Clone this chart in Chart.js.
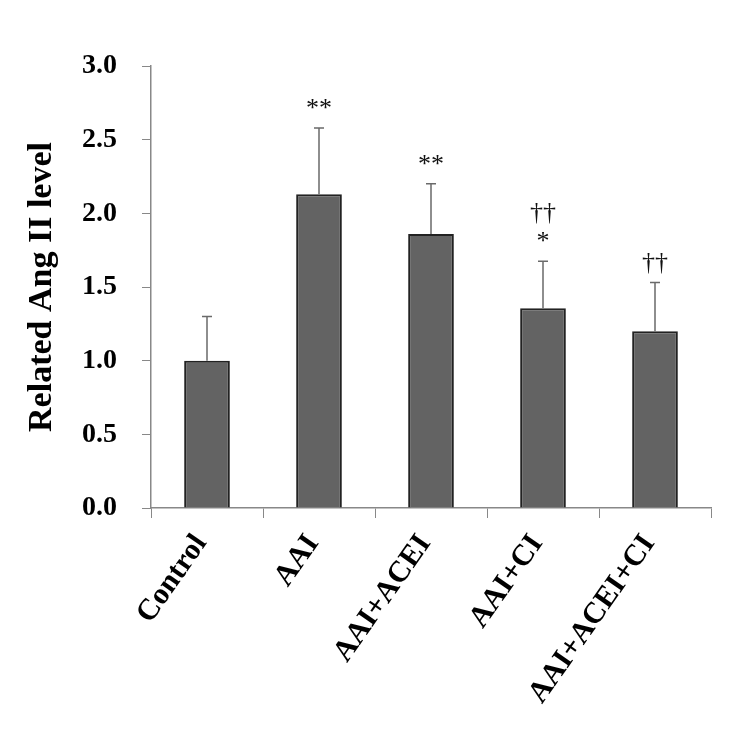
<!DOCTYPE html>
<html>
<head>
<meta charset="utf-8">
<script src="https://cdn.jsdelivr.net/npm/chart.js@4/dist/chart.umd.min.js"></script>
<style>
  html, body { margin: 0; padding: 0; background: #fff; }
  #wrap { width: 744px; height: 756px; }
</style>
</head>
<body>
<div id="wrap"><canvas id="chart" width="744" height="756"></canvas></div>
<script>
// data
const groups = ['Control', 'AAI', 'AAI+ACEI', 'AAI+CI', 'AAI+ACEI+CI'];
const means = [1.00, 2.13, 1.86, 1.355, 1.20];
const sds = [0.30, 0.45, 0.34, 0.32, 0.33];
// significance marks, top line first
const marks = [[], ['**'], ['**'], ['\u2020\u2020', '*'], ['\u2020\u2020']];
const yTicks = [0, 0.5, 1.0, 1.5, 2.0, 2.5, 3.0];

const serif = '"Liberation Serif", "Times New Roman", serif';

// error bars (upper only) + marks
const errorBars = {
  id: 'errorBars',
  afterDatasetsDraw(chart) {
    const ctx = chart.ctx;
    const x = chart.scales.x, y = chart.scales.y;
    ctx.save();
    ctx.strokeStyle = '#6a6a6a';
    ctx.lineWidth = 1.5;
    means.forEach((m, i) => {
      const px = x.getPixelForValue(i);
      const top = y.getPixelForValue(m + sds[i]);
      const base = y.getPixelForValue(m);
      ctx.beginPath();
      ctx.moveTo(px, base);
      ctx.lineTo(px, top);
      ctx.moveTo(px - 5, top);
      ctx.lineTo(px + 5, top);
      ctx.stroke();

      // marks above the error bar
      ctx.fillStyle = '#111';
      ctx.textAlign = 'center';
      ctx.textBaseline = 'middle';
      ctx.font = '26px ' + serif;
      const lines = marks[i];
      lines.forEach((t, k) => {
        const fromBottom = lines.length - 1 - k;
        ctx.fillText(t, px, top - 19 - fromBottom * 29);
      });
    });
    ctx.restore();
  }
};

new Chart(document.getElementById('chart'), {
  type: 'bar',
  data: {
    labels: groups,
    datasets: [{
      data: means,
      backgroundColor: '#636363',
      borderColor: '#222',
      borderWidth: 2,
      barPercentage: 0.8,
      categoryPercentage: 0.51
    }]
  },
  options: {
    responsive: false,
    animation: false,
    devicePixelRatio: 1,
    layout: { padding: { left: 0, right: 33, top: 66, bottom: 0 } },
    plugins: { legend: { display: false }, tooltip: { enabled: false } },
    scales: {
      x: {
        grid: { display: true, drawOnChartArea: false, color: '#888', tickLength: 10, offset: true },
        border: { color: '#888', width: 1.5 },
        ticks: {
          color: '#000',
          font: { family: serif, size: 30, weight: 'bold' },
          maxRotation: 55, minRotation: 55,
          labelOffset: -6,
          padding: 10
        },
        afterFit(s) { s.height = 248; }
      },
      y: {
        min: 0, max: 3,
        afterBuildTicks(s) { s.ticks = yTicks.map(v => ({ value: v })); },
        grid: { display: true, drawOnChartArea: false, color: '#888', tickLength: 9 },
        border: { color: '#888', width: 1.5 },
        ticks: {
          color: '#000',
          font: { family: serif, size: 28, weight: 'bold' },
          padding: 25,
          callback: v => v.toFixed(1)
        },
        title: {
          display: true,
          text: 'Related Ang II level',
          color: '#000',
          font: { family: serif, size: 34, weight: 'bold' },
          padding: { top: 22, bottom: 0 }
        },
        afterFit(s) { s.width = 151; }
      }
    }
  },
  plugins: [errorBars]
});
</script>
</body>
</html>
